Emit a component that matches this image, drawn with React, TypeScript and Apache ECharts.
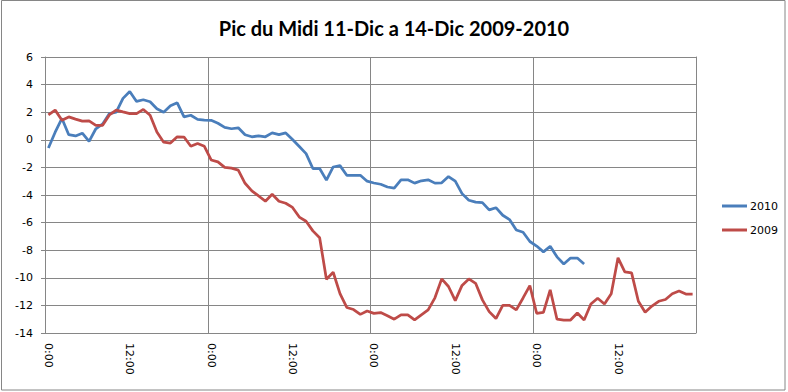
import React, { useEffect, useRef } from "react";
import * as echarts from "echarts";

const title = "Pic du Midi 11-Dic a 14-Dic 2009-2010";

const hours: string[] = [];
for (let d = 0; d < 4; d++) {
  for (let h = 0; h < 24; h++) hours.push(`${h}:00`);
}

const series2010 = [
  -0.6, 0.55, 1.55, 0.37, 0.28, 0.48, -0.12, 0.8, 1.15, 1.9, 2.0, 3.0, 3.5, 2.78, 2.9, 2.76,
  2.25, 2.0, 2.46, 2.68, 1.66, 1.78, 1.48, 1.42, 1.41, 1.2, 0.9, 0.8, 0.87, 0.37, 0.22, 0.28,
  0.22, 0.5, 0.37, 0.5, 0.02, -0.49, -1.0, -2.08, -2.08, -2.92, -1.97, -1.87, -2.57, -2.57, -2.57, -3.0,
  -3.13, -3.22, -3.42, -3.5, -2.9, -2.9, -3.14, -2.97, -2.9, -3.14, -3.12, -2.66, -3.0, -3.9, -4.38, -4.52,
  -4.55, -5.08, -4.92, -5.47, -5.78, -6.54, -6.7, -7.37, -7.7, -8.12, -7.72, -8.48, -9.0, -8.57, -8.57, -9.0,
];

const series2009 = [
  1.8, 2.15, 1.42, 1.66, 1.5, 1.35, 1.37, 1.05, 1.05, 1.8, 2.15, 2.02, 1.9, 1.9, 2.2, 1.78,
  0.56, -0.17, -0.24, 0.22, 0.2, -0.47, -0.27, -0.47, -1.46, -1.6, -2.0, -2.05, -2.2, -3.15, -3.7, -4.07,
  -4.45, -3.95, -4.45, -4.6, -4.9, -5.6, -5.9, -6.6, -7.1, -10.1, -9.6, -11.15, -12.15, -12.3, -12.65, -12.4,
  -12.58, -12.52, -12.75, -13.0, -12.68, -12.68, -13.05, -12.68, -12.33, -11.45, -10.08, -10.63, -11.65, -10.55, -10.08, -10.4,
  -11.6, -12.45, -12.95, -12.0, -12.0, -12.32, -11.46, -10.57, -12.57, -12.5, -10.87, -13.0, -13.06, -13.06, -12.55, -13.06,
  -11.9, -11.48, -11.9, -11.16, -8.55, -9.57, -9.64, -11.7, -12.5, -12.05, -11.7, -11.57, -11.16, -10.96, -11.18, -11.18,
];

const GRID = "#868686";
const LABEL_FONT = "DejaVu Sans";

export default function App() {
  const ref = useRef<HTMLDivElement>(null);
  useEffect(() => {
    document.body.style.margin = "0";
    if (!ref.current) return;
    const chart = echarts.init(ref.current, undefined, { renderer: "svg" });
    chart.setOption({
      animation: false,
      backgroundColor: "#ffffff",
      title: {
        text: title,
        left: "center",
        top: 13,
        textStyle: { fontFamily: "Lato", fontWeight: "bold", fontSize: 20, color: "#000" },
      },
      graphic: [
        {
          type: "rect",
          shape: { x: 1.5, y: 0.5, width: 783.5, height: 389.5 },
          style: { fill: "none", stroke: GRID, lineWidth: 1 },
          silent: true,
        },
      ],
      legend: {
        orient: "vertical",
        left: 717,
        top: 195.5,
        icon: "rect",
        itemWidth: 25,
        itemHeight: 3,
        itemGap: 13,
        textStyle: { fontFamily: LABEL_FONT, fontSize: 11, color: "#000", padding: [0, 0, 0, -2] },
        data: ["2010", "2009"],
      },
      grid: { left: 45, right: 92, top: 57, bottom: 59, containLabel: false },
      xAxis: {
        type: "category",
        data: hours,
        boundaryGap: true,
        axisLine: { lineStyle: { color: GRID, width: 1 } },
        axisTick: { show: true, interval: 23, length: 4, lineStyle: { color: GRID } },
        splitLine: { show: true, interval: 23, lineStyle: { color: GRID, width: 1 } },
        axisLabel: {
          interval: 11,
          rotate: -90,
          margin: 10,
          fontFamily: LABEL_FONT,
          fontSize: 11,
          color: "#000",
        },
      },
      yAxis: [
        {
          type: "value",
          min: -14,
          max: 6,
          interval: 2,
          axisLine: { show: true, lineStyle: { color: GRID, width: 1 } },
          axisTick: { show: true, length: 4, lineStyle: { color: GRID } },
          splitLine: { show: true, lineStyle: { color: GRID, width: 1 } },
          axisLabel: { margin: 12, fontFamily: LABEL_FONT, fontSize: 11, color: "#000" },
        },
        {
          type: "value",
          position: "right",
          min: -14,
          max: 6,
          interval: 2,
          axisLine: { show: true, lineStyle: { color: GRID, width: 1 } },
          axisTick: { show: false },
          axisLabel: { show: false },
          splitLine: { show: false },
        },
      ],
      series: [
        {
          name: "2010",
          type: "line",
          data: series2010,
          symbol: "none",
          lineStyle: { color: "#4A7EBB", width: 2.75 },
          itemStyle: { color: "#4A7EBB" },
        },
        {
          name: "2009",
          type: "line",
          data: series2009,
          symbol: "none",
          lineStyle: { color: "#BE4B48", width: 2.75 },
          itemStyle: { color: "#BE4B48" },
        },
      ],
    });
    return () => chart.dispose();
  }, []);
  return <div ref={ref} style={{ width: 788, height: 392 }} />;
}
